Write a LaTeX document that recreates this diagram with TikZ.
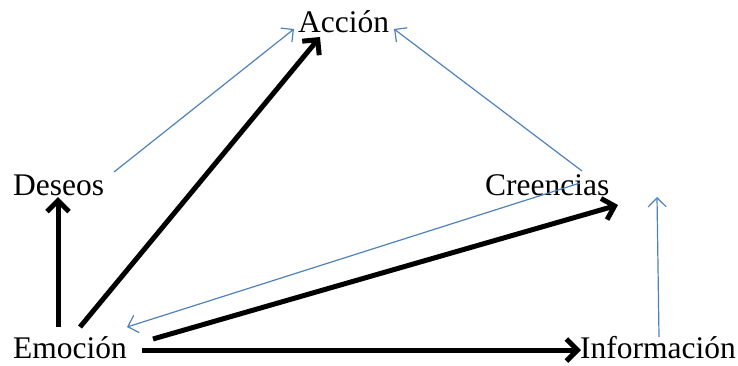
\documentclass[tikz,border=0pt]{standalone}
\usepackage{fontspec}
\setmainfont{Liberation Serif}
\usetikzlibrary{arrows.meta, positioning, calc}
\definecolor{linkblue}{RGB}{79, 129, 189}

\begin{document}
\begin{tikzpicture}[
  x=1pt, y=-1pt,
  every node/.style={font=\fontsize{31.5}{36}\selectfont, inner sep=0pt, anchor=base west},
  strong/.style={line width=5pt, -{Straight Barb[length=11pt, width=22pt]}},
  weak/.style={draw=linkblue, line width=1.2pt, -{Straight Barb[length=9pt, width=18pt]}}
]
\useasboundingbox (0,0) rectangle (738,365);

% Concepts
\node (acc) at (298, 32) {Acción};
\node (des) at (13, 195) {Deseos};
\node (cre) at (485, 195) {Creencias};
\node (emo) at (13, 358) {Emoción};
\node (inf) at (580, 358) {Información};

% Thick links from Emoción
\draw[strong] ([shift={(45,-31)}]emo.base west) -- ([shift={(45,2)}]des.base west);
\draw[strong] ([shift={(67,-31)}]emo.base west) -- ([shift={(22,5)}]acc.base west);
\draw[strong] ([shift={(140,-19)}]emo.base west) -- ([shift={(133,10)}]cre.base west);
\draw[strong] ([shift={(129,-8)}]emo.base west) -- ([shift={(1,-8)}]inf.base west);

% Thin blue links
\draw[weak] ([shift={(101,-23)}]des.base west) -- ([shift={(-4,-3)}]acc.base west);
\draw[weak] ([shift={(97,-24)}]cre.base west) -- ([shift={(96,-3)}]acc.base west);
\draw[weak] ([shift={(95,-12)}]cre.base west) -- ([shift={(114,-31)}]emo.base west);
\draw[weak] ([shift={(79,-21)}]inf.base west) -- ([shift={(172,2)}]cre.base west);

\end{tikzpicture}
\end{document}
